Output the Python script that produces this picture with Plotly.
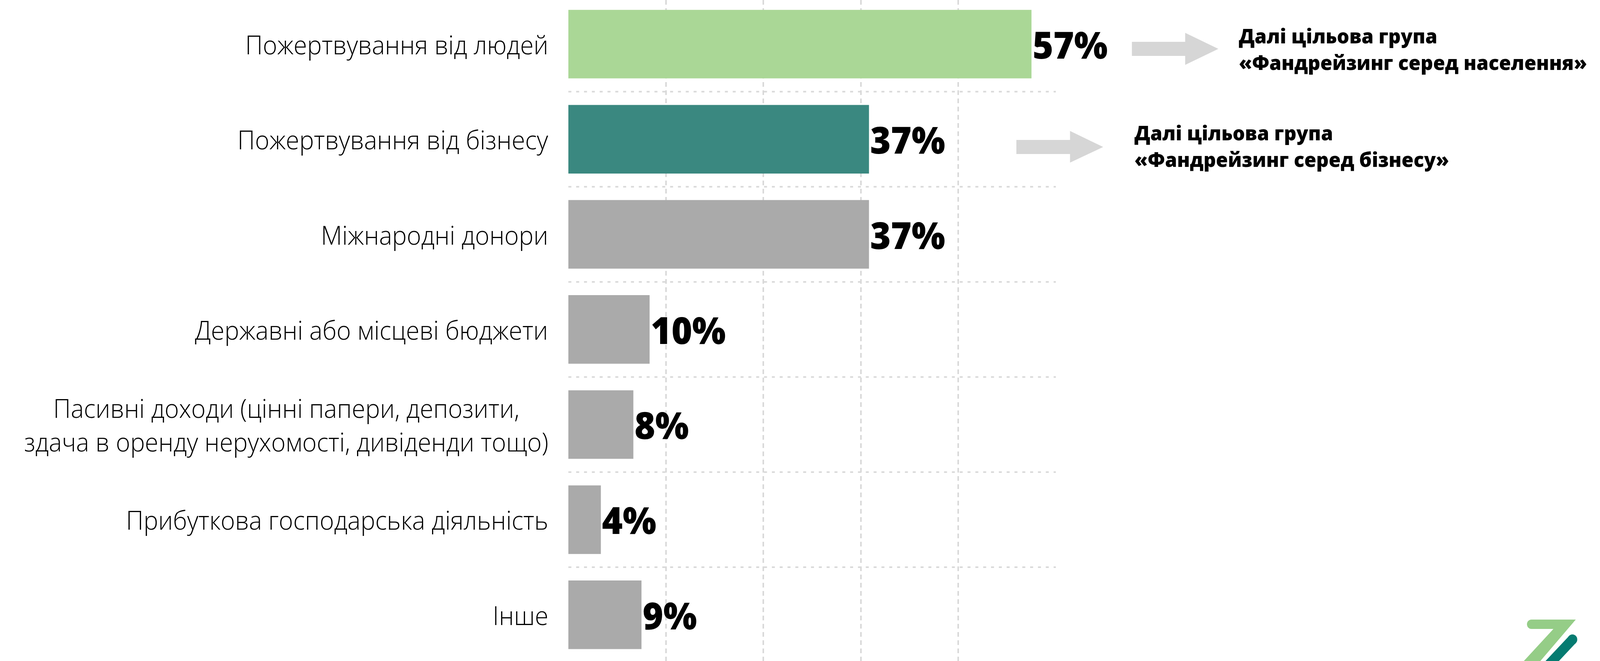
import plotly.graph_objects as go

categories = [
    "Пожертвування від людей",
    "Пожертвування від бізнесу",
    "Міжнародні донори",
    "Державні або місцеві бюджети",
    "Пасивні доходи (цінні папери, депозити,<br>здача в оренду нерухомості, дивіденди тощо)",
    "Прибуткова господарська діяльність",
    "Інше",
]
values = [57, 37, 37, 10, 8, 4, 9]
value_labels = ["57%", "37%", "37%", "10%", "8%", "4%", "9%"]
bar_colors = ["#aad796", "#3a8880", "#aaaaaa", "#aaaaaa", "#aaaaaa", "#aaaaaa", "#aaaaaa"]
grid_ticks = [12, 24, 36, 48]
note_texts = [
    "Далі цільова група<br>«Фандрейзинг серед населення»",
    "Далі цільова група<br>«Фандрейзинг серед бізнесу»",
]

W_FIG, H_FIG = 4293, 1691
X0, PW = 1525, 1308


def fx(p):
    return (p - X0) / PW


def fy(p):
    return 1 - p / H_FIG


def path(points):
    return "M " + " L ".join(f"{fx(x):.5f},{fy(y):.5f}" for x, y in points) + " Z"


fig = go.Figure()
fig.add_trace(go.Bar(
    y=categories,
    x=values,
    orientation="h",
    marker=dict(color=bar_colors, line=dict(width=0)),
    text=value_labels,
    textposition="outside",
    textfont=dict(family="Open Sans", size=95, color="#000000", weight=800),
    constraintext="none",
    cliponaxis=False,
    hoverinfo="skip",
))

shapes = []
# dotted separators between categories
for i in range(len(categories) - 1):
    shapes.append(dict(
        type="line", xref="x", yref="y", x0=0, x1=60, y0=i + 0.5, y1=i + 0.5,
        line=dict(color="#d9d9d9", width=4, dash="8px,13px"), layer="below",
    ))

# block arrows
arrow_color = "#d6d6d6"
shapes.append(dict(type="path", xref="paper", yref="paper", fillcolor=arrow_color,
                   line=dict(width=0),
                   path=path([(3037, 107), (3180, 107), (3180, 84), (3269, 125),
                              (3180, 166), (3180, 143), (3037, 143)])))
shapes.append(dict(type="path", xref="paper", yref="paper", fillcolor=arrow_color,
                   line=dict(width=0),
                   path=path([(2727, 358), (2871, 358), (2871, 335), (2960, 376),
                              (2871, 416), (2871, 394), (2727, 394)])))

# logo
green = "#95cd87"
teal = "#057b71"
shapes.append(dict(type="path", xref="paper", yref="paper", fillcolor=green,
                   line=dict(width=0),
                   path=path([(4109, 1585), (4228, 1585), (4125, 1700), (4080, 1700),
                              (4168, 1609), (4109, 1609)])))
shapes.append(dict(type="circle", xref="paper", yref="paper", fillcolor=green,
                   line=dict(width=0),
                   x0=fx(4097), x1=fx(4121), y0=fy(1609), y1=fy(1585)))
shapes.append(dict(type="path", xref="paper", yref="paper", fillcolor=teal,
                   line=dict(width=0),
                   path=path([(4210, 1627), (4228, 1645), (4174, 1700), (4138, 1700)])))
shapes.append(dict(type="circle", xref="paper", yref="paper", fillcolor=teal,
                   line=dict(width=0),
                   x0=fx(4206), x1=fx(4232), y0=fy(1649), y1=fy(1623)))

annotations = []
for cat in categories:
    annotations.append(dict(
        x=0, y=cat, xref="x", yref="y", text=cat, showarrow=False,
        xanchor="right", yanchor="middle", align="center", xshift=-52,
        font=dict(family="Open Sans", size=66, color="#000000", weight=300),
    ))

annotations.append(dict(
    x=fx(3322), y=fy(124), xref="paper", yref="paper", text=note_texts[0],
    showarrow=False, xanchor="left", yanchor="middle", align="left",
    font=dict(family="Open Sans", size=52, color="#000000", weight=800),
))
annotations.append(dict(
    x=fx(3042), y=fy(372), xref="paper", yref="paper", text=note_texts[1],
    showarrow=False, xanchor="left", yanchor="middle", align="left",
    font=dict(family="Open Sans", size=52, color="#000000", weight=800),
))

fig.update_layout(
    width=W_FIG, height=H_FIG,
    margin=dict(l=X0, r=W_FIG - X0 - PW, t=0, b=0, pad=0),
    paper_bgcolor="white", plot_bgcolor="white",
    showlegend=False,
    bargap=0.279,
    shapes=shapes,
    annotations=annotations,
    xaxis=dict(
        range=[0, 60], tickvals=grid_ticks, showticklabels=False, ticks="",
        showgrid=True, gridcolor="#d9d9d9", gridwidth=4, griddash="12px,9px",
        zeroline=False, showline=False, fixedrange=True,
    ),
    yaxis=dict(
        type="category", categoryorder="array", categoryarray=categories,
        range=[6.486, -0.464], showticklabels=False, ticks="",
        showgrid=False, zeroline=False, showline=False, fixedrange=True,
    ),
)

fit_script = (
    "var gd=document.getElementById('{plot_id}');"
    "var de=document.documentElement, bd=document.body;"
    "de.style.margin='0';de.style.padding='0';de.style.overflow='hidden';"
    "bd.style.margin='0';bd.style.padding='0';bd.style.overflow='hidden';"
    "var sx=window.innerWidth/%d, sy=window.innerHeight/%d;"
    "gd.style.transformOrigin='0 0';gd.style.transform='scale('+sx+','+sy+')';"
    % (W_FIG, H_FIG)
)

fig.write_html("out.html", config={"displayModeBar": False}, post_script=fit_script)
